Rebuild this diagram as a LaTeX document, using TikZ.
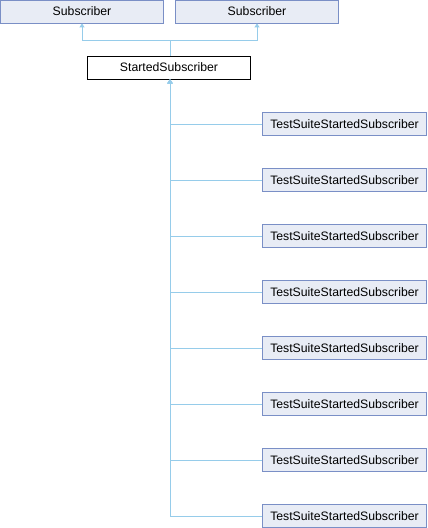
\documentclass[tikz,border=0pt]{standalone}
\usepackage{fontspec}
\setmainfont{Liberation Sans}
\usetikzlibrary{arrows.meta,positioning}

\definecolor{boxfill}{HTML}{E8ECF5}
\definecolor{boxline}{HTML}{7A8FC6}
\definecolor{linkline}{HTML}{96CCEA}

\begin{document}
\begin{tikzpicture}[x=1bp,y=-1bp,
    cls/.style={draw=boxline,fill=boxfill,line width=0.8bp,inner sep=0pt,minimum height=23bp,font=\fontsize{12.3}{14}\selectfont},
    base/.style={cls,minimum width=163bp},
    leaf/.style={cls,minimum width=164bp},
    cur/.style={cls,draw=black,fill=white,minimum width=163bp},
    inh/.style={draw=linkline,line width=0.8bp,-{Triangle[length=4bp,width=5bp]}}]
            \useasboundingbox (0,0) rectangle (427,528);

            \node[base] (sub1) at (82,11.5) {Subscriber};
            \node[base] (sub2) at (257,11.5) {Subscriber};

            \node[cur] (started) at (169,67.5) {StartedSubscriber};

            \node[leaf] (t1) at (344.5,124) {TestSuiteStartedSubscriber};
            \node[leaf] (t2) at (344.5,180) {TestSuiteStartedSubscriber};
            \node[leaf] (t3) at (344.5,236) {TestSuiteStartedSubscriber};
            \node[leaf] (t4) at (344.5,292) {TestSuiteStartedSubscriber};
            \node[leaf] (t5) at (344.5,348) {TestSuiteStartedSubscriber};
            \node[leaf] (t6) at (344.5,404) {TestSuiteStartedSubscriber};
            \node[leaf] (t7) at (344.5,460) {TestSuiteStartedSubscriber};
            \node[leaf] (t8) at (344.5,516) {TestSuiteStartedSubscriber};

            \coordinate (join) at (170,40);

            \draw[draw=linkline,line width=0.8bp] (started.north -| join) -- (join);
            \draw[inh] (join) -| (sub1.south);
            \draw[inh] (join) -| (sub2.south);

            \draw[inh] (t8.west) -| (started.south -| join);
            \draw[inh] (t7.west) -| (started.south -| join);
            \draw[inh] (t6.west) -| (started.south -| join);
            \draw[inh] (t5.west) -| (started.south -| join);
            \draw[inh] (t4.west) -| (started.south -| join);
            \draw[inh] (t3.west) -| (started.south -| join);
            \draw[inh] (t2.west) -| (started.south -| join);
            \draw[inh] (t1.west) -| (started.south -| join);
\end{tikzpicture}
\end{document}
